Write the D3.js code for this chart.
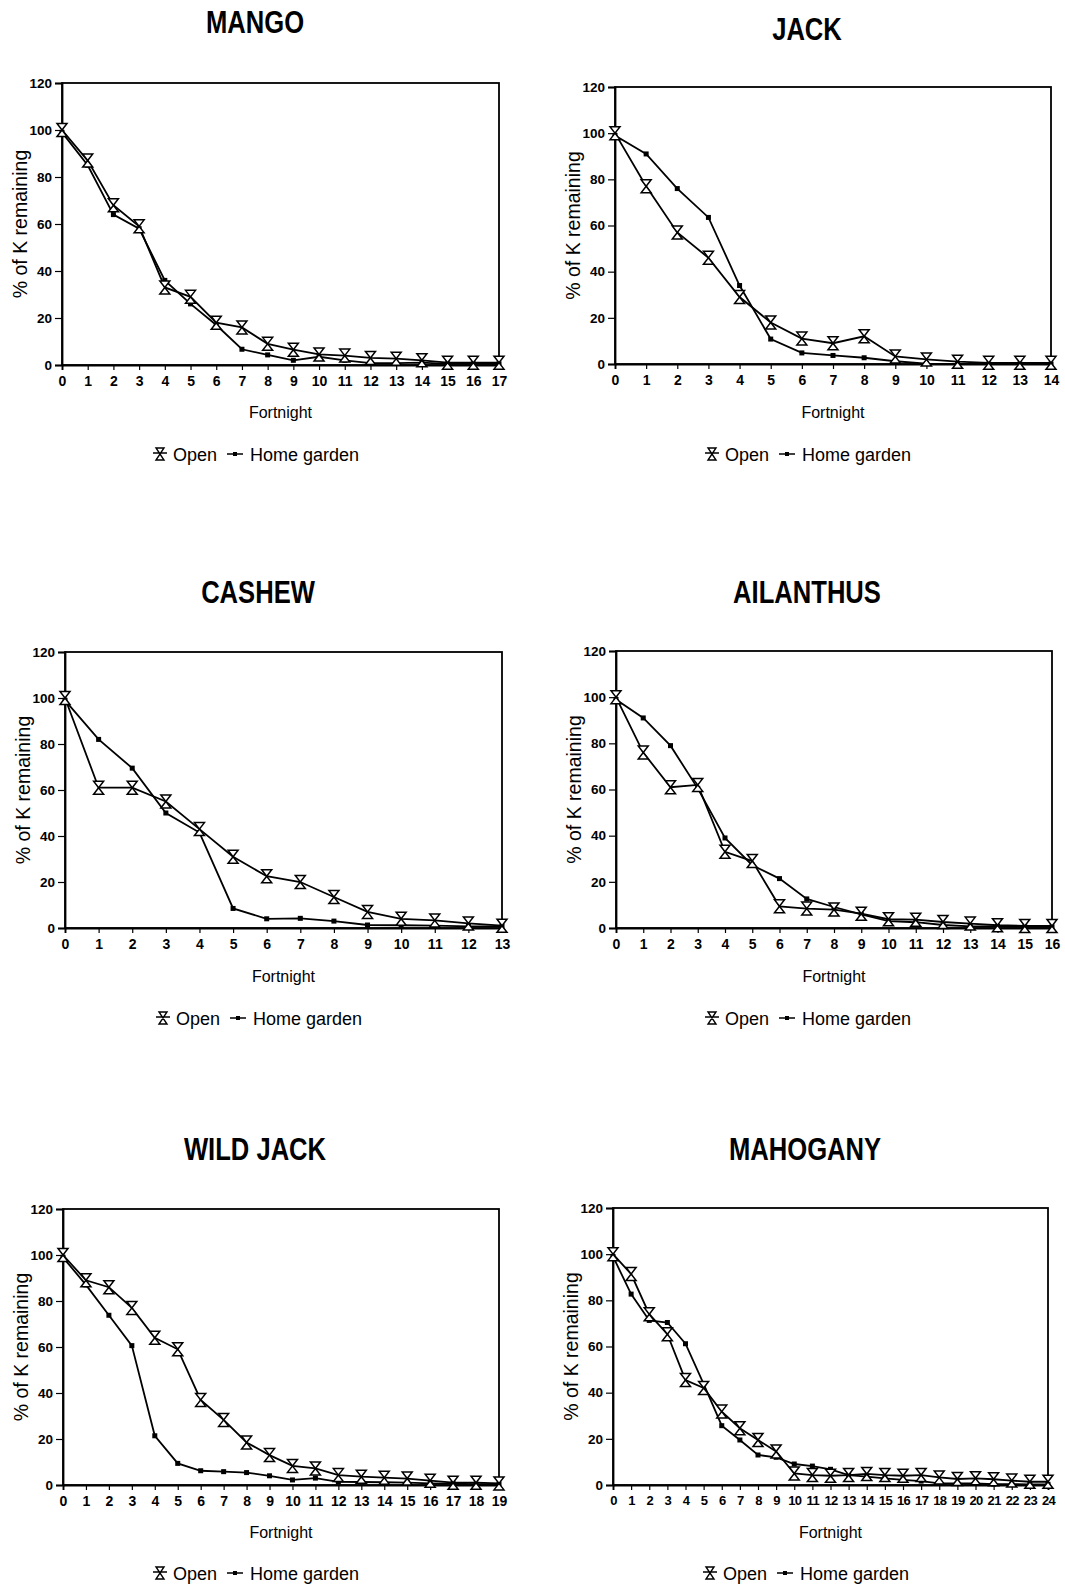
<!DOCTYPE html>
<html><head><meta charset="utf-8">
<script src="https://cdn.jsdelivr.net/npm/d3@7"></script>
<style>
body{margin:0;background:#fff;}
svg{display:block;}
text{font-family:"Liberation Sans",Arial,Helvetica,sans-serif;fill:#000;}
</style></head>
<body><svg id="c" width="1065" height="1589"></svg>
<script>
// ---- data ----
const speciesNames = ["MANGO","JACK","CASHEW","AILANTHUS","WILD JACK","MAHOGANY"];
const seriesNames = ["Open","Home garden"];
const yTicks = [0,20,40,60,80,100,120];
const yLabel = "% of K remaining";
const xLabel = "Fortnight";

const mangoOpen = [100,87,68,59,33,29,18,16,9,6.5,4.5,4,3,2.7,2,1,1,1];
const mangoHome = [99,85,64,58,36,26,17,6.7,4.3,2,3.5,2,0.8,0.8,1,0.5,0.5,0.5];

const jackOpen = [100,77,57,46,29,18,11,9,12,3.3,2,1,0.5,0.5,0.5];
const jackHome = [99,91,76,63.5,34,10.8,4.8,3.7,2.7,1.2,0.2,0,0,0,0];

const cashewOpen = [100,61,61,55,43,31,22.5,20,13.5,7,4,3.3,2,1];
const cashewHome = [99,82,69.5,50,41.5,8.5,4,4.2,3,1.3,1.2,1,0.7,0.7];

const ailanthusOpen = [100,76,61,62,33,29,9.4,8.4,8,6.2,3.8,3.6,2.6,1.9,1.2,0.9,0.9];
const ailanthusHome = [99,91,79,60.5,39,27.2,21.4,12.6,9.1,5.9,3,2.5,1.3,0.7,0.7,0.5,0.5];

const wildJackOpen = [100,89,86,77,64,59,37,28.3,18.5,13,8.3,7.2,4.3,3.6,3.2,2.8,1.9,1,1,0.7];
const wildJackHome = [99,87,73.8,60.6,21.4,9.4,6.2,5.8,5.4,4,2.2,3,1.4,1.3,1.2,1,0.7,0.6,0.4,0.4];

const mahoganyOpen = [100,91.4,74,65.3,45.5,42,31.8,24.6,19.5,14.5,5,4.3,4,4.3,4.8,4.3,4,4.3,3.3,2.6,2.9,2.5,1.9,1.4,1.4];
const mahoganyHome = [99,82.7,71.3,70.4,61.2,43.8,25.7,19.5,13,12,9.1,8.2,6.8,4.3,3.6,2.9,2.2,1.7,0.7,0.7,0.7,0.4,0.4,0.3,0.3];

const openSeries = [mangoOpen,jackOpen,cashewOpen,ailanthusOpen,wildJackOpen,mahoganyOpen];
const homeSeries = [mangoHome,jackHome,cashewHome,ailanthusHome,wildJackHome,mahoganyHome];

// ---- layout ----
const panels = [
  {x0:62, x1:499, yTop:83, yBot:365, tx:255, ty:33, fy:418, ly:461},
  {x0:615,x1:1051,yTop:87, yBot:364, tx:807, ty:40, fy:418, ly:461},
  {x0:65, x1:502, yTop:652,yBot:928, tx:258, ty:603,fy:982, ly:1025},
  {x0:616,x1:1052,yTop:651,yBot:928, tx:807, ty:603,fy:982, ly:1025},
  {x0:63, x1:499, yTop:1209,yBot:1485,tx:255,ty:1160,fy:1538,ly:1580},
  {x0:613,x1:1048,yTop:1208,yBot:1485,tx:805,ty:1160,fy:1538,ly:1580}
];

const svg = d3.select("#c");
const hourglass = "M-5,-6.5H5L-5,6.5H5Z";

panels.forEach((p,i)=>{
  const open = openSeries[i], home = homeSeries[i];
  const n = open.length - 1;
  const x = d3.scaleLinear().domain([0,n]).range([p.x0,p.x1]);
  const y = d3.scaleLinear().domain([0,120]).range([p.yBot,p.yTop]);
  const g = svg.append("g");

  // title
  g.append("text").attr("transform",`translate(${p.tx},${p.ty}) scale(0.8,1)`)
    .attr("text-anchor","middle").attr("font-size",32).attr("font-weight","bold")
    .text(speciesNames[i]);

  // frame
  g.append("rect").attr("x",p.x0).attr("y",p.yTop).attr("width",p.x1-p.x0).attr("height",p.yBot-p.yTop)
    .attr("fill","none").attr("stroke","#000").attr("stroke-width",1.8);

  // y axis
  const ya = g.append("g").attr("transform",`translate(${p.x0},0)`)
    .call(d3.axisLeft(y).tickValues(yTicks).tickSize(7).tickPadding(3).tickFormat(d3.format("d")));
  ya.select(".domain").attr("stroke-width",1.8);
  ya.selectAll(".tick line").attr("stroke-width",1.2);
  ya.selectAll("text").attr("font-size",13.5).style("font-weight","bold");

  // x axis
  const xa = g.append("g").attr("transform",`translate(0,${p.yBot})`)
    .call(d3.axisBottom(x).tickValues(d3.range(0,n+1)).tickSize(5).tickPadding(6).tickFormat(d3.format("d")));
  xa.select(".domain").attr("stroke-width",1.8);
  xa.selectAll(".tick line").attr("stroke-width",1.2);
  xa.selectAll("text").attr("font-size", n>20?13:14).style("font-weight","bold")
    .attr("letter-spacing", n>20?"-0.6px":"0");

  // axis labels
  g.append("text").attr("x",(p.x0+p.x1)/2).attr("y",p.fy).attr("text-anchor","middle")
    .attr("font-size",16).text(xLabel);
  g.append("text").attr("transform",`translate(${p.x0-35},${(p.yTop+p.yBot)/2}) rotate(-90)`)
    .attr("text-anchor","middle").attr("font-size",19.5).text(yLabel);

  const line = d3.line().x((d,j)=>x(j)).y(d=>y(d));
  g.append("path").datum(home).attr("d",line).attr("fill","none").attr("stroke","#000").attr("stroke-width",1.8);
  g.append("path").datum(open).attr("d",line).attr("fill","none").attr("stroke","#000").attr("stroke-width",1.8);

  g.selectAll(".hm").data(home).enter().append("rect")
    .attr("x",(d,j)=>x(j)-2.5).attr("y",d=>y(d)-2.5).attr("width",5).attr("height",5).attr("fill","#000");
  g.selectAll(".op").data(open).enter().append("path")
    .attr("transform",(d,j)=>`translate(${x(j)},${y(d)})`).attr("d",hourglass)
    .attr("fill","#fff").attr("stroke","#000").attr("stroke-width",1.5);

  // legend
  const lx = p.tx, ly = p.ly;
  g.append("path").attr("transform",`translate(${lx-95},${ly-7})`).attr("d","M-4,-6H4L-4,6H4Z M-7,-1H7")
    .attr("fill","#fff").attr("stroke","#000").attr("stroke-width",1.4);
  g.append("text").attr("x",lx-82).attr("y",ly).attr("font-size",18).text(seriesNames[0]);
  g.append("line").attr("x1",lx-28).attr("x2",lx-12).attr("y1",ly-7).attr("y2",ly-7).attr("stroke","#000").attr("stroke-width",1.5);
  g.append("rect").attr("x",lx-22).attr("y",ly-9).attr("width",4).attr("height",4).attr("fill","#000");
  g.append("text").attr("x",lx-5).attr("y",ly).attr("font-size",18).text(seriesNames[1]);
});
</script></body></html>
